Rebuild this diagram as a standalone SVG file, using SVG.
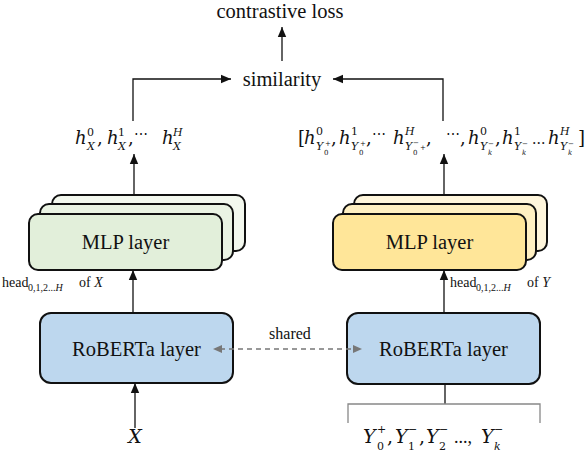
<svg xmlns="http://www.w3.org/2000/svg" width="588" height="452" viewBox="0 0 588 452">
<style>
.t{font-family:'Liberation Serif','Times New Roman',serif;fill:#111}
.m{font-family:'DejaVu Serif',serif;fill:#111}
.i{font-style:italic}
.box{stroke:#111;stroke-width:2}
.ln{stroke:#111;stroke-width:1.3;fill:none}
</style>
<defs>
<marker id="ah" markerUnits="userSpaceOnUse" markerWidth="10" markerHeight="10" viewBox="0 0 10 10" refX="10" refY="5" orient="auto">
<path d="M0,0.8 L10,5 L0,9.2 Z" fill="#111"/>
</marker>
</defs>
<rect width="588" height="452" fill="#fff"/>

<g id="connectors">
<line class="ln" x1="135" y1="428" x2="135" y2="383" marker-end="url(#ah)"/>
<line class="ln" x1="133" y1="313" x2="133" y2="270" marker-end="url(#ah)"/>
<line class="ln" x1="134" y1="195" x2="134" y2="154" marker-end="url(#ah)"/>
<polyline class="ln" points="133,121 133,79 231,79" marker-end="url(#ah)"/>
<polyline class="ln" points="443,121 443,79 333,79" marker-end="url(#ah)"/>
<line class="ln" x1="282" y1="61" x2="282" y2="27" marker-end="url(#ah)"/>
<line class="ln" x1="444" y1="313" x2="444" y2="270" marker-end="url(#ah)"/>
<line class="ln" x1="444" y1="195" x2="444" y2="154" marker-end="url(#ah)"/>
<line class="ln" x1="445" y1="385" x2="445" y2="404"/>
<path d="M348,423 V404 H540 V423" fill="none" stroke="#888" stroke-width="1.3"/>
</g>

<g id="contrastive-loss">
<text class="t" x="280" y="18" font-size="20.5" text-anchor="middle">contrastive loss</text>
</g>
<g id="similarity">
<text class="t" x="282" y="86" font-size="20.5" text-anchor="middle">similarity</text>
</g>

<g id="mlp-left">
<rect class="box" x="52" y="195" width="193" height="56" rx="9" fill="#f3f8ee"/>
<rect class="box" x="40" y="204" width="193" height="56" rx="9" fill="#eaf3e3"/>
<rect class="box" x="29" y="214" width="193" height="56" rx="9" fill="#e2efda"/>
<text class="t" x="125.5" y="249" font-size="20.5" text-anchor="middle">MLP layer</text>
</g>
<g id="mlp-right">
<rect class="box" x="354" y="195" width="193" height="56" rx="9" fill="#fff6dc"/>
<rect class="box" x="343" y="204" width="193" height="56" rx="9" fill="#fff0c2"/>
<rect class="box" x="333" y="214" width="193" height="56" rx="9" fill="#ffe699"/>
<text class="t" x="429.5" y="249" font-size="20.5" text-anchor="middle">MLP layer</text>
</g>

<g id="roberta-left">
<rect class="box" x="40" y="313" width="193" height="70" rx="11" fill="#bdd7ee"/>
<text class="t" x="136.5" y="356" font-size="20.5" text-anchor="middle">RoBERTa layer</text>
</g>
<g id="roberta-right">
<rect class="box" x="347" y="313" width="193" height="71" rx="11" fill="#bdd7ee"/>
<text class="t" x="443.5" y="356" font-size="20.5" text-anchor="middle">RoBERTa layer</text>
</g>

<g id="shared-link">
<line x1="220" y1="349" x2="355" y2="349" stroke="#777" stroke-width="1.5" stroke-dasharray="5,4"/>
<path d="M213,349 L222,345 L222,353 Z" fill="#777"/>
<path d="M362,349 L353,345 L353,353 Z" fill="#777"/>
<text class="t" x="290" y="339" font-size="16" text-anchor="middle">shared</text>
</g>

<g id="head-x">
<text class="t" x="2" y="287" font-size="14">head</text>
<text class="t" x="28" y="291" font-size="10">0,1,2...<tspan class="i">H</tspan></text>
<text class="t" x="79" y="287" font-size="14">of <tspan class="i">X</tspan></text>
</g>
<g id="head-y">
<text class="t" x="450" y="287" font-size="14">head</text>
<text class="t" x="476" y="291" font-size="10">0,1,2...<tspan class="i">H</tspan></text>
<text class="t" x="527" y="287" font-size="14">of <tspan class="i">Y</tspan></text>
</g>

<g id="h-x">
<text class="m i" x="75" y="144" font-size="18">h</text>
<text class="m" x="87" y="136" font-size="11">0</text>
<text class="m i" x="87" y="150" font-size="11">X</text>
<text class="m" x="97" y="144" font-size="18">,</text>
<text class="m i" x="107" y="144" font-size="18">h</text>
<text class="m" x="118" y="136" font-size="11">1</text>
<text class="m i" x="118" y="150" font-size="11">X</text>
<text class="m" x="128" y="144" font-size="18">,</text>
<text class="m" x="134" y="139" font-size="14">⋯</text>
<text class="m i" x="162" y="144" font-size="18">h</text>
<text class="m i" x="173" y="136" font-size="11">H</text>
<text class="m i" x="173" y="150" font-size="11">X</text>
</g>

<g id="h-y">
<text class="m" x="298" y="144" font-size="18">[</text>
<text class="m i" x="304" y="144" font-size="18">h</text>
<text class="m" x="316" y="135" font-size="11">0</text>
<text class="m i" x="316" y="150" font-size="11">Y</text>
<text class="m" x="324" y="155" font-size="7">0</text>
<text class="m" x="325" y="146" font-size="7">+</text>
<text class="m" x="331" y="144" font-size="18">,</text>
<text class="m i" x="339" y="144" font-size="18">h</text>
<text class="m" x="351" y="135" font-size="11">1</text>
<text class="m i" x="351" y="150" font-size="11">Y</text>
<text class="m" x="359" y="155" font-size="7">0</text>
<text class="m" x="360" y="146" font-size="7">+</text>
<text class="m" x="366" y="144" font-size="18">,</text>
<text class="m" x="372" y="139" font-size="14">⋯</text>
<text class="m i" x="393" y="144" font-size="18">h</text>
<text class="m i" x="405" y="135" font-size="11">H</text>
<text class="m i" x="405" y="150" font-size="11">Y</text>
<text class="m" x="413" y="155" font-size="7">0</text>
<text class="m" x="413" y="145" font-size="7">−</text>
<text class="m" x="420" y="150" font-size="7">+</text>
<text class="m" x="426" y="144" font-size="18">,</text>
<text class="m" x="446" y="139" font-size="14">⋯</text>
<text class="m" x="460" y="144" font-size="18">,</text>
<text class="m i" x="468" y="144" font-size="18">h</text>
<text class="m" x="480" y="135" font-size="11">0</text>
<text class="m i" x="480" y="150" font-size="11">Y</text>
<text class="m i" x="488" y="155" font-size="7">k</text>
<text class="m" x="488" y="146" font-size="7">−</text>
<text class="m" x="495" y="144" font-size="18">,</text>
<text class="m i" x="502" y="144" font-size="18">h</text>
<text class="m" x="514" y="135" font-size="11">1</text>
<text class="m i" x="514" y="150" font-size="11">Y</text>
<text class="m i" x="522" y="155" font-size="7">k</text>
<text class="m" x="522" y="146" font-size="7">−</text>
<text class="m" x="532" y="144" font-size="14">...</text>
<text class="m i" x="548" y="144" font-size="18">h</text>
<text class="m i" x="560" y="135" font-size="11">H</text>
<text class="m i" x="560" y="150" font-size="11">Y</text>
<text class="m i" x="568" y="155" font-size="7">k</text>
<text class="m" x="568" y="146" font-size="7">−</text>
<text class="m" x="578" y="144" font-size="18">]</text>
</g>

<g id="input-x">
<text class="m i" x="135" y="443" font-size="19" text-anchor="middle">X</text>
</g>
<g id="input-y">
<text class="m i" x="363" y="443" font-size="19">Y</text>
<text class="m" x="377" y="450" font-size="11">0</text>
<text class="m" x="377" y="433" font-size="11">+</text>
<text class="m" x="387" y="443" font-size="19">,</text>
<text class="m i" x="395" y="443" font-size="19">Y</text>
<text class="m" x="408" y="450" font-size="11">1</text>
<text class="m" x="408" y="433" font-size="11">−</text>
<text class="m" x="419" y="443" font-size="19">,</text>
<text class="m i" x="426" y="443" font-size="19">Y</text>
<text class="m" x="439" y="450" font-size="11">2</text>
<text class="m" x="439" y="433" font-size="11">−</text>
<text class="t" x="454" y="443" font-size="18">...,</text>
<text class="m i" x="481" y="443" font-size="19">Y</text>
<text class="m i" x="494" y="450" font-size="11">k</text>
<text class="m" x="494" y="433" font-size="11">−</text>
</g>
</svg>
